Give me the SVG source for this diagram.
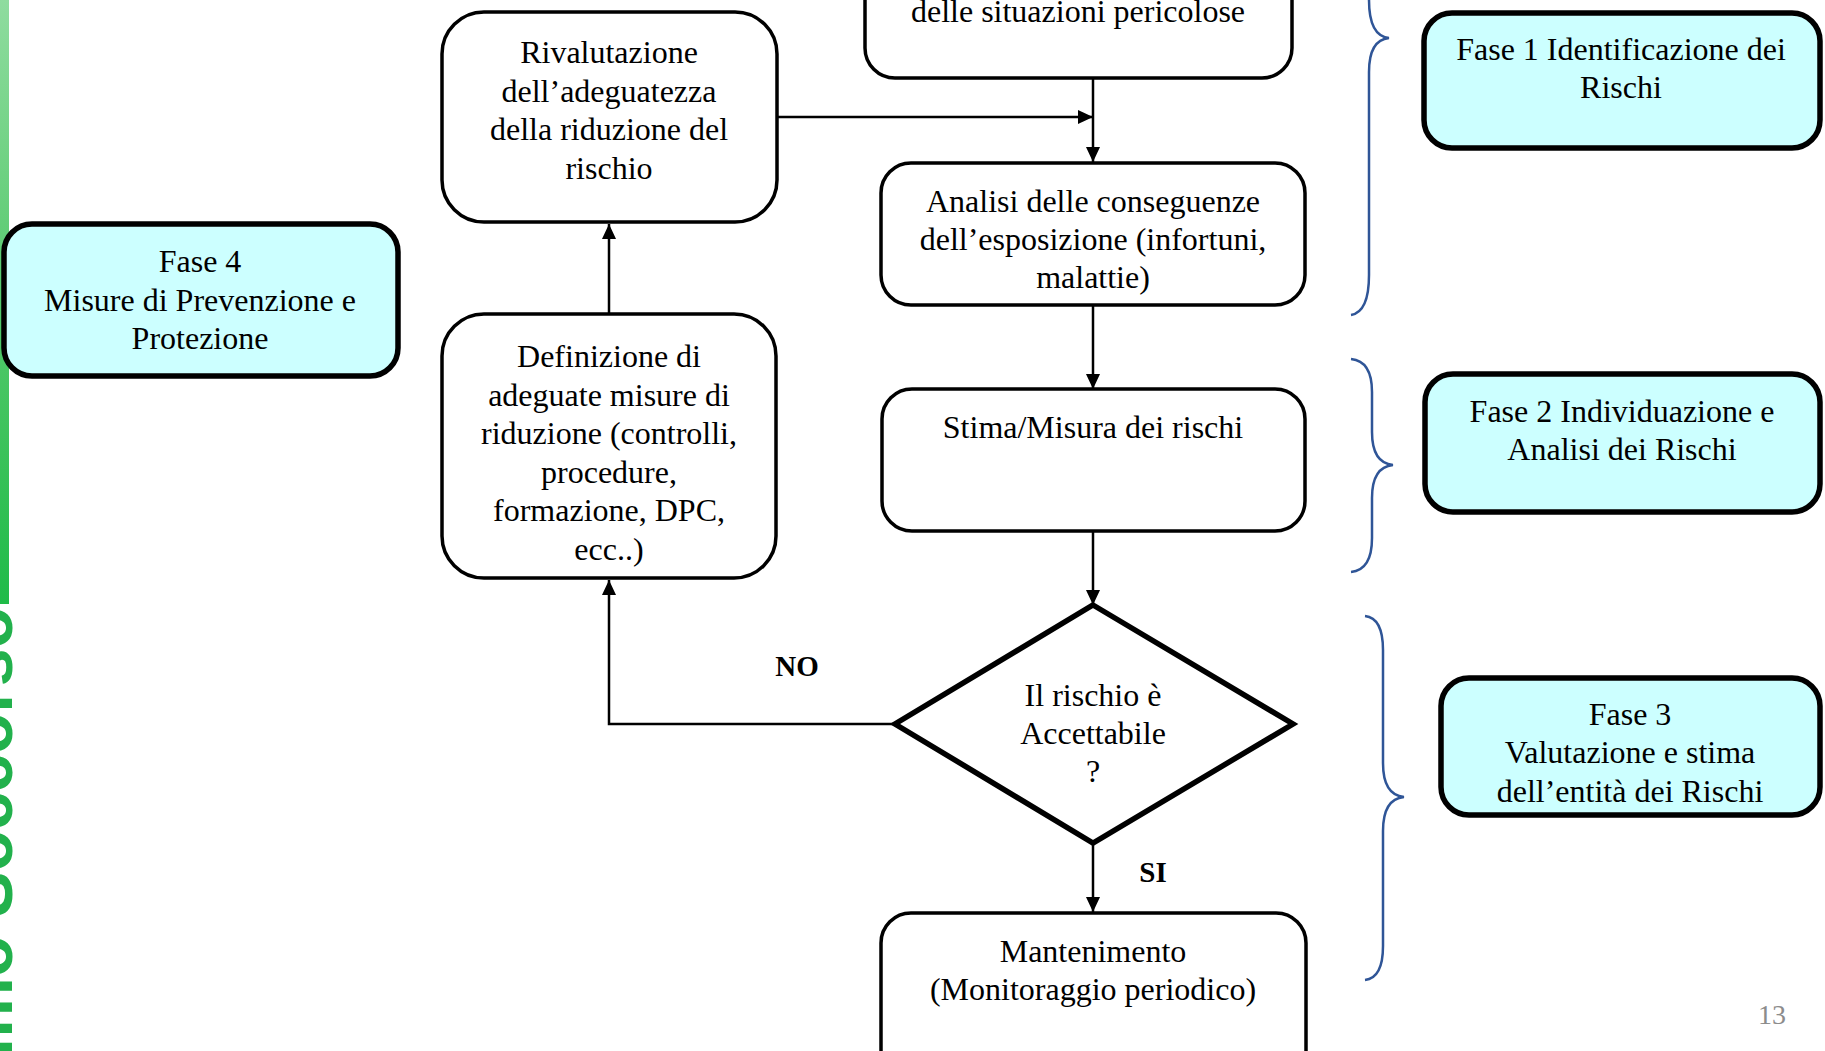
<svg xmlns="http://www.w3.org/2000/svg" width="1825" height="1051" viewBox="0 0 1825 1051">
<defs>
<linearGradient id="gbar" x1="0" y1="0" x2="0" y2="1">
<stop offset="0" stop-color="#8fdc9f"/>
<stop offset="0.5" stop-color="#55c96c"/>
<stop offset="1" stop-color="#1fbb48"/>
</linearGradient>
<marker id="arr" viewBox="0 0 15 14" refX="15" refY="7" markerWidth="15" markerHeight="14" markerUnits="userSpaceOnUse" orient="auto">
<path d="M0,0 L15,7 L0,14 Z" fill="#000"/>
</marker>
<style>
.t{font-family:"Liberation Serif","Times New Roman",serif;font-size:32px;fill:#000;text-anchor:middle}
.b{font-weight:bold;font-size:29px}
.box{fill:#fff;stroke:#000;stroke-width:3.5}
.fase{fill:#ccffff;stroke:#000;stroke-width:5.5}
.con{fill:none;stroke:#000;stroke-width:2.5}
.brace{fill:none;stroke:#2f5597;stroke-width:2.5}
</style>
</defs>
<rect width="1825" height="1051" fill="#fff"/>
<g id="sidebar">
<rect x="0" y="0" width="9" height="604" fill="url(#gbar)"/>
<text transform="translate(12,607) rotate(-90)" text-anchor="end" font-family="'Liberation Sans',Arial,sans-serif" font-weight="bold" font-size="68" fill="#22b14c">Primo Soccorso</text>
</g>
<g id="connectors">
<path class="con" d="M1093,78 L1093,162" marker-end="url(#arr)"/>
<path class="con" d="M777,117 L1093,117" marker-end="url(#arr)"/>
<path class="con" d="M1093,305 L1093,389" marker-end="url(#arr)"/>
<path class="con" d="M1093,527 L1093,605" marker-end="url(#arr)"/>
<path class="con" d="M1093,843 L1093,912" marker-end="url(#arr)"/>
<path class="con" d="M895,724 L609,724 L609,580" marker-end="url(#arr)"/>
<path class="con" d="M609,314 L609,224" marker-end="url(#arr)"/>
<text class="t b" x="797" y="676">NO</text>
<text class="t b" x="1153" y="882">SI</text>
</g>
<g id="n-identificazione">
<rect class="box" x="865" y="-60" width="427" height="138" rx="30"/>
<text class="t" x="1078" y="22">delle situazioni pericolose</text>
</g>
<g id="n-rivalutazione">
<rect class="box" x="442" y="12" width="335" height="210" rx="42"/>
<text class="t" x="609" y="63">Rivalutazione</text>
<text class="t" x="609" y="101.5">dell’adeguatezza</text>
<text class="t" x="609" y="140">della riduzione del</text>
<text class="t" x="609" y="178.5">rischio</text>
</g>
<g id="n-analisi">
<rect class="box" x="881" y="163" width="424" height="142" rx="30"/>
<text class="t" x="1093" y="212">Analisi delle conseguenze</text>
<text class="t" x="1093" y="250">dell’esposizione (infortuni,</text>
<text class="t" x="1093" y="288">malattie)</text>
</g>
<g id="n-definizione">
<rect class="box" x="442" y="314" width="334" height="264" rx="42"/>
<text class="t" x="609" y="367">Definizione di</text>
<text class="t" x="609" y="405.5">adeguate misure di</text>
<text class="t" x="609" y="444">riduzione (controlli,</text>
<text class="t" x="609" y="482.5">procedure,</text>
<text class="t" x="609" y="521">formazione, DPC,</text>
<text class="t" x="609" y="559.5">ecc..)</text>
</g>
<g id="n-stima">
<rect class="box" x="882" y="389" width="423" height="142" rx="30"/>
<text class="t" x="1093" y="438">Stima/Misura dei rischi</text>
</g>
<g id="n-decisione">
<path d="M1093,605 L1293,724 L1093,843 L895,724 Z" fill="#fff" stroke="#000" stroke-width="5.5" stroke-linejoin="miter"/>
<text class="t" x="1093" y="706">Il rischio è</text>
<text class="t" x="1093" y="744">Accettabile</text>
<text class="t" x="1093" y="782">?</text>
</g>
<g id="n-mantenimento">
<rect class="box" x="881" y="913" width="425" height="190" rx="30"/>
<text class="t" x="1093" y="962">Mantenimento</text>
<text class="t" x="1093" y="1000">(Monitoraggio periodico)</text>
</g>
<g id="n-fase4">
<rect class="fase" x="4" y="224" width="394" height="152" rx="28"/>
<text class="t" x="200" y="272">Fase 4</text>
<text class="t" x="200" y="311">Misure di Prevenzione e</text>
<text class="t" x="200" y="349">Protezione</text>
</g>
<g id="n-fase1">
<rect class="fase" x="1424" y="13" width="396" height="135" rx="28"/>
<text class="t" x="1621" y="60">Fase 1 Identificazione dei</text>
<text class="t" x="1621" y="98">Rischi</text>
</g>
<g id="n-fase2">
<rect class="fase" x="1425" y="374" width="395" height="138" rx="28"/>
<text class="t" x="1622" y="422">Fase 2 Individuazione e</text>
<text class="t" x="1622" y="460">Analisi dei Rischi</text>
</g>
<g id="n-fase3">
<rect class="fase" x="1441" y="678" width="379" height="137" rx="28"/>
<text class="t" x="1630" y="725">Fase 3</text>
<text class="t" x="1630" y="763">Valutazione e stima</text>
<text class="t" x="1630" y="802">dell’entità dei Rischi</text>
</g>
<g id="braces">
<path class="brace" d="M1351,-30 Q1369,-28 1369,0 Q1369,36 1389,38 Q1369,40 1369,72 L1369,275 Q1369,312 1351,315"/>
<path class="brace" d="M1351,359 Q1372,361 1372,392 L1372,432 Q1372,463 1393,465 Q1372,467 1372,498 L1372,538 Q1372,570 1351,572"/>
<path class="brace" d="M1365,616 Q1383,618 1383,650 L1383,763 Q1383,795 1404,797 Q1383,799 1383,831 L1383,946 Q1383,978 1365,980"/>
</g>
<text x="1772" y="1024" font-family="'Liberation Serif','Times New Roman',serif" font-size="28" fill="#8c8c8c" text-anchor="middle">13</text>
</svg>
